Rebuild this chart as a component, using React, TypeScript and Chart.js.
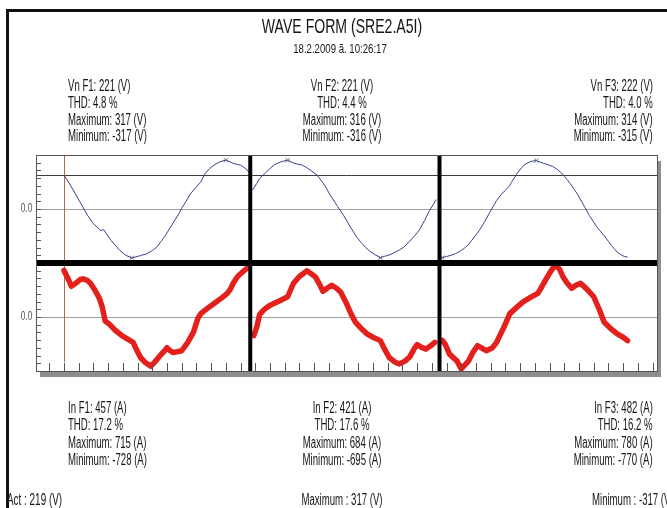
import React, { useEffect, useRef } from "react";
import { Chart, registerables } from "chart.js";

Chart.register(...registerables);

// ---------- text data ----------
const titleText = "WAVE FORM (SRE2.A5I)";
const subtitleText = "18.2.2009 ã. 10:26:17";
const phaseNames = ["F1", "F2", "F3"];
const vnRms = [221, 221, 222];
const vThd = [4.8, 4.4, 4.0];
const vMax = [317, 316, 314];
const vMin = [-317, -316, -315];
const inRms = [457, 421, 482];
const iThd = [17.2, 17.6, 16.2];
const iMax = [715, 684, 780];
const iMin = [-728, -695, -770];
const actValue = 219;
const cursorMax = 317;
const cursorMin = -317;
const zeroLabel = "0.0";

// ---------- axis data ----------
const sampleMin = 1;
const sampleMax = 423;
const sampleTickStep = 10;
const voltRange = [-350, 350];
const voltTickStep = 50;
const ampRange = [-800, 800];
const ampTickCount = 15;
const cursorSample = 20;
const phaseBoundaries = [146.6, 275.2];

// ---------- voltage waveforms (V) ----------
const vSamplesF1 = [20, 24, 29, 33, 36, 40, 45, 47, 52, 58, 62, 66, 69, 72, 76, 80, 83, 86, 89, 92, 95, 98, 100, 103, 106, 110, 113, 116, 119, 122, 126, 130, 133, 135, 138, 140, 143, 146];
const vValuesF1 = [220, 160, 78, 10, -41, -95, -139, -134, -204, -269, -300, -317, -310, -302, -291, -270, -248, -210, -171, -123, -78, -32, 5, 50, 100, 143, 176, 231, 262, 285, 306, 317, 305, 296, 288, 285, 265, 238];

const vSamplesF2 = [148, 151, 153, 157, 160, 163, 166, 169, 172, 176, 179, 182, 185, 188, 192, 196, 198, 201, 204, 206, 210, 213, 215, 219, 222, 225, 228, 231, 235, 238, 240, 243, 245, 248, 251, 254, 257, 260, 262, 265, 268, 271, 273];
const vValuesF2 = [122, 165, 198, 235, 262, 287, 300, 310, 316, 298, 290, 284, 268, 248, 220, 170, 140, 89, 45, 16, -41, -90, -122, -183, -218, -250, -275, -294, -316, -306, -301, -290, -280, -265, -246, -218, -188, -155, -128, -75, -18, 30, 61];

const vSamplesF3 = [277, 280, 283, 286, 289, 292, 295, 297, 300, 303, 306, 309, 312, 314, 317, 320, 323, 324, 326, 328, 331, 333, 336, 338, 341, 344, 346, 349, 352, 355, 358, 360, 362, 364, 367, 369, 372, 374, 377, 380, 382, 385, 387, 390, 392, 394, 396, 399, 401, 403];
const vValuesF3 = [-315, -308, -300, -290, -275, -255, -230, -204, -168, -128, -80, -28, 22, 55, 92, 122, 152, 172, 200, 232, 268, 287, 303, 310, 314, 303, 296, 287, 276, 258, 235, 212, 190, 165, 124, 95, 45, 10, -42, -85, -115, -150, -172, -210, -237, -258, -280, -300, -308, -312];

// ---------- current waveforms (A) ----------
const iSamplesF1 = [20, 23, 25, 28, 31, 33, 36, 38, 41, 44, 46, 48, 51, 55, 59, 63, 67, 69, 72, 75, 79, 82, 85, 88, 90, 92, 94, 97, 100, 104, 108, 111, 113, 117, 122, 127, 131, 133, 135, 138, 141, 144];
const iValuesF1 = [690, 560, 455, 500, 555, 565, 540, 500, 400, 280, 150, -60, -110, -200, -270, -325, -375, -470, -600, -670, -728, -660, -580, -510, -455, -495, -525, -515, -500, -380, -225, -20, 50, 120, 200, 280, 350, 410, 500, 600, 660, 715];

const iSamplesF2 = [149, 151, 153, 156, 159, 163, 167, 172, 174, 176, 180, 185, 188, 191, 194, 196, 199, 202, 205, 208, 212, 215, 218, 222, 226, 230, 235, 238, 241, 245, 248, 252, 255, 258, 260, 263, 266, 269, 272];
const iValuesF2 = [-275, -150, 40, 110, 160, 205, 245, 300, 400, 500, 600, 684, 640, 590, 470, 380, 430, 470, 430, 370, 200, 50, -75, -170, -250, -300, -350, -480, -600, -670, -695, -650, -590, -470, -410, -450, -475, -430, -375];

const iSamplesF3 = [277, 279, 282, 287, 290, 295, 298, 301, 304, 307, 311, 314, 319, 323, 328, 332, 337, 342, 344, 346, 350, 354, 357, 359, 362, 365, 368, 371, 375, 380, 384, 387, 391, 396, 400, 403];
const iValuesF3 = [-345, -400, -550, -650, -770, -650, -520, -425, -460, -500, -460, -375, -150, 50, 150, 225, 290, 350, 420, 500, 650, 780, 700, 600, 500, 425, 470, 500, 420, 300, 100, -75, -160, -250, -300, -350];

// ---------- styling ----------
const W = 667;
const H = 508;
const FONT = '"Liberation Sans", Arial, sans-serif';
const voltColor = "#37408f";
const ampColor = "#e3201b";

const toPoints = (xs: number[], ys: number[]) => xs.map((x, i) => ({ x, y: ys[i] }));

const extremeRadius = (ctx: any) => {
  const d = ctx.dataset.data as { x: number; y: number }[];
  const v = d[ctx.dataIndex]?.y;
  let mx = -Infinity;
  let mn = Infinity;
  for (const p of d) {
    if (p.y > mx) mx = p.y;
    if (p.y < mn) mn = p.y;
  }
  return v === mx || v === mn ? 3 : 0;
};

const framePlugin = {
  id: "waveFrame",
  beforeDatasetsDraw(chart: any) {
    const { ctx, chartArea: a, scales } = chart;
    const x = scales.x;
    const yV = scales.yV;
    const yI = scales.yI;
    ctx.save();
    // zero grid lines
    ctx.strokeStyle = "#a0a0a0";
    ctx.lineWidth = 1;
    for (const s of [yV, yI]) {
      const py = Math.round(s.getPixelForValue(0)) + 0.5;
      ctx.beginPath();
      ctx.moveTo(a.left, py);
      ctx.lineTo(a.right, py);
      ctx.stroke();
    }
    // cursor horizontal line (Act value)
    ctx.strokeStyle = "#3c3c3c";
    const cy = Math.round(yV.getPixelForValue(actValue)) + 0.5;
    ctx.beginPath();
    ctx.moveTo(a.left, cy);
    ctx.lineTo(a.right, cy);
    ctx.stroke();
    // cursor vertical line
    ctx.strokeStyle = "#b06a4c";
    const cx = Math.round(x.getPixelForValue(cursorSample)) + 0.5;
    ctx.beginPath();
    ctx.moveTo(cx, a.top);
    ctx.lineTo(cx, a.bottom - 9);
    ctx.stroke();
    ctx.restore();
  },
  afterDatasetsDraw(chart: any) {
    const { ctx, chartArea: a, scales } = chart;
    const x = scales.x;
    const yV = scales.yV;
    const yI = scales.yI;
    ctx.save();
    // x ticks, pointing inward
    ctx.strokeStyle = "#555";
    ctx.lineWidth = 1;
    for (const t of x.ticks) {
      const px = Math.round(x.getPixelForValue(t.value)) + 0.5;
      ctx.beginPath();
      ctx.moveTo(px, a.bottom);
      ctx.lineTo(px, a.bottom - 8);
      ctx.stroke();
    }
    // y ticks, pointing inward
    for (const s of [yV, yI]) {
      for (const t of s.ticks) {
        const py = Math.round(s.getPixelForValue(t.value)) + 0.5;
        ctx.beginPath();
        ctx.moveTo(a.left, py);
        ctx.lineTo(a.left + 5, py);
        ctx.stroke();
      }
    }
    // pane dividers
    ctx.fillStyle = "#000";
    const midY = yV.bottom;
    ctx.fillRect(a.left, midY - 3, a.right - a.left, 6);
    for (const b of phaseBoundaries) {
      const px = x.getPixelForValue(b);
      ctx.fillRect(px - 2, a.top, 4, a.bottom - a.top);
    }
    // plot border
    ctx.strokeStyle = "#555";
    ctx.strokeRect(Math.round(a.left) + 0.5, Math.round(a.top) + 0.5, Math.round(a.right - a.left), Math.round(a.bottom - a.top));
    // shadow
    ctx.fillStyle = "#8e8e8e";
    ctx.fillRect(a.left + 4, a.bottom + 1, a.right - a.left, 5);
    ctx.fillRect(a.right + 1, a.top + 6, 3, a.bottom - a.top);
    // zero labels
    ctx.fillStyle = "#555";
    ctx.font = `12px ${FONT}`;
    ctx.textAlign = "right";
    ctx.textBaseline = "middle";
    for (const s of [yV, yI]) {
      const py = s.getPixelForValue(0);
      ctx.save();
      ctx.translate(a.left - 3.5, py);
      ctx.scale(0.7, 1);
      ctx.fillText(zeroLabel, 0, 0);
      ctx.restore();
    }
    ctx.restore();
  },
};

type Align = "left" | "center" | "right";

function Txt(props: { x: number; base: number; size: number; sx: number; align: Align; text: string }) {
  const { x, base, size, sx, align, text } = props;
  const style: React.CSSProperties = {
    position: "absolute",
    top: base - 0.8465 * size,
    fontFamily: FONT,
    fontSize: size,
    lineHeight: `${size}px`,
    whiteSpace: "nowrap",
    color: "#161616",
  };
  if (align === "left") {
    style.left = x;
    style.transformOrigin = "left center";
    style.transform = `scaleX(${sx})`;
  } else if (align === "center") {
    style.left = x;
    style.transformOrigin = "center center";
    style.transform = `translateX(-50%) scaleX(${sx})`;
  } else {
    style.right = W - x;
    style.transformOrigin = "right center";
    style.transform = `scaleX(${sx})`;
  }
  return <div style={style}>{text}</div>;
}

export default function App() {
  const canvasRef = useRef<HTMLCanvasElement | null>(null);

  useEffect(() => {
    if (!canvasRef.current) return;
    const volt = [toPoints(vSamplesF1, vValuesF1), toPoints(vSamplesF2, vValuesF2), toPoints(vSamplesF3, vValuesF3)];
    const amp = [toPoints(iSamplesF1, iValuesF1), toPoints(iSamplesF2, iValuesF2), toPoints(iSamplesF3, iValuesF3)];
    const datasets: any[] = [];
    phaseNames.forEach((p, k) => {
      datasets.push({
        label: `Vn ${p}`,
        data: volt[k],
        yAxisID: "yV",
        borderColor: voltColor,
        borderWidth: 1,
        pointStyle: "crossRot",
        pointRadius: extremeRadius,
        pointBorderColor: "#6a6a6a",
        pointBorderWidth: 1,
        tension: 0,
      });
      datasets.push({
        label: `In ${p}`,
        data: amp[k],
        yAxisID: "yI",
        borderColor: ampColor,
        borderWidth: 5.5,
        borderCapStyle: "round",
        borderJoinStyle: "round",
        pointRadius: 0,
        tension: 0,
      });
    });
    const chart = new Chart(canvasRef.current, {
      type: "line",
      data: { datasets },
      options: {
        animation: false,
        responsive: false,
        devicePixelRatio: 1,
        layout: { padding: { left: 36, top: 155, right: 10, bottom: 137 } },
        plugins: { legend: { display: false }, tooltip: { enabled: false }, title: { display: false } },
        scales: {
          x: {
            type: "linear",
            min: sampleMin,
            max: sampleMax,
            ticks: { display: false, stepSize: sampleTickStep, includeBounds: false },
            grid: { display: false, drawTicks: false },
            border: { display: false },
          },
          yV: {
            type: "linear",
            position: "left",
            stack: "panes",
            stackWeight: 1,
            weight: 1,
            min: voltRange[0],
            max: voltRange[1],
            ticks: { display: false, stepSize: voltTickStep },
            grid: { display: false, drawTicks: false },
            border: { display: false },
          },
          yI: {
            type: "linear",
            position: "left",
            stack: "panes",
            stackWeight: 1,
            weight: 0,
            min: ampRange[0],
            max: ampRange[1],
            ticks: { display: false, count: ampTickCount },
            grid: { display: false, drawTicks: false },
            border: { display: false },
          },
        } as any,
      },
      plugins: [framePlugin],
    });
    return () => chart.destroy();
  }, []);

  const vBase = [91.7, 108.4, 125.1, 141.8];
  const iBase = [413.3, 430.7, 448.1, 465.5];
  const vX: [number, Align][] = [[67.5, "left"], [341.7, "center"], [653, "right"]];
  const iX: [number, Align][] = [[68.3, "left"], [341.7, "center"], [652.5, "right"]];
  const S = 16;
  const SX = 0.6;

  return (
    <div style={{ position: "fixed", left: 0, top: 0, width: W, height: H, overflow: "hidden", background: "#fff" }}>
      <canvas ref={canvasRef} width={W} height={H} style={{ position: "absolute", left: 0, top: 0, display: "block" }} />
      <div style={{ position: "absolute", left: 6, top: 9, width: 700, height: 520, borderLeft: "3px solid #111", borderTop: "3px solid #111" }} />
      <Txt x={342} base={33} size={21} sx={0.67} align="center" text={titleText} />
      <Txt x={340} base={53} size={13} sx={0.74} align="center" text={subtitleText} />
      {phaseNames.map((p, k) => {
        const lines = [`Vn ${p}: ${vnRms[k]} (V)`, `THD: ${vThd[k].toFixed(1)} %`, `Maximum: ${vMax[k]} (V)`, `Minimum: ${vMin[k]} (V)`];
        return lines.map((t, j) => <Txt key={`v${k}${j}`} x={vX[k][0]} base={vBase[j]} size={S} sx={SX} align={vX[k][1]} text={t} />);
      })}
      {phaseNames.map((p, k) => {
        const lines = [`In ${p}: ${inRms[k]} (A)`, `THD: ${iThd[k].toFixed(1)} %`, `Maximum: ${iMax[k]} (A)`, `Minimum: ${iMin[k]} (A)`];
        return lines.map((t, j) => <Txt key={`i${k}${j}`} x={iX[k][0]} base={iBase[j]} size={S} sx={SX} align={iX[k][1]} text={t} />);
      })}
      <Txt x={7.3} base={506} size={S} sx={0.62} align="left" text={`Act : ${actValue} (V)`} />
      <Txt x={342} base={506} size={S} sx={0.6} align="center" text={`Maximum : ${cursorMax} (V)`} />
      <Txt x={591.7} base={506} size={S} sx={0.6} align="left" text={`Minimum : ${cursorMin} (V)`} />
    </div>
  );
}
